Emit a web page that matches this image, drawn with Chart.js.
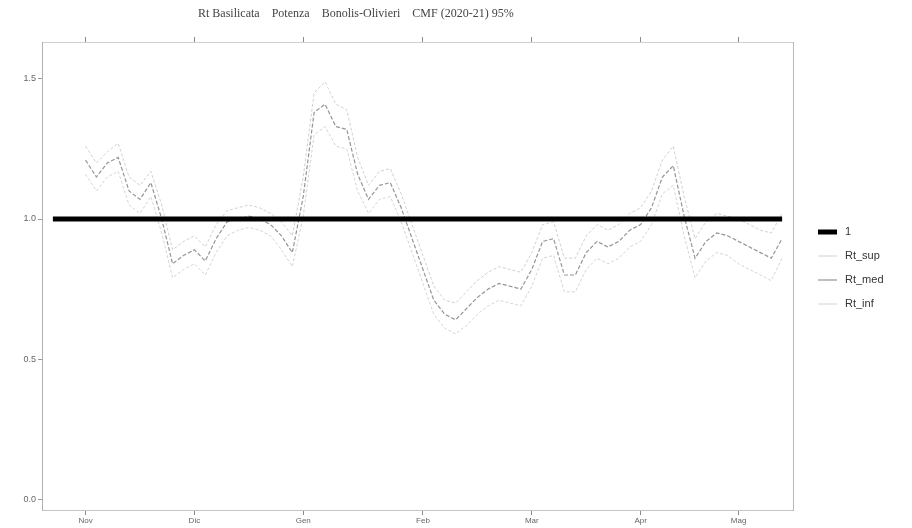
<!DOCTYPE html>
<html>
<head>
<meta charset="utf-8">
<script src="https://cdn.jsdelivr.net/npm/chart.js@4.4.0/dist/chart.umd.min.js"></script>
<style>
  html, body { margin: 0; padding: 0; background: #fff; }
  #wrap { position: relative; width: 912px; height: 528px; }
  #titulo { position: absolute; left: 198px; top: 6px; font: 12px 'Liberation Serif'; color: #444; white-space: pre; }
</style>
</head>
<body>
<div id="wrap">
  <canvas id="grafico" width="912" height="528"></canvas>
  <div id="titulo">Rt Basilicata    Potenza    Bonolis-Olivieri    CMF (2020-21) 95%</div>
</div>
<script>

// datos (un punto cada ~3 dias)

const meses = ['Nov', 'Dic', 'Gen', 'Feb', 'Mar', 'Apr', 'Mag']
const mesesIdx = [4, 14, 24, 35, 45, 55, 64]

const yTicks = [0, 0.5, 1, 1.5]

const rtMed = [null, null, null, null,
  1.21, 1.15, 1.20, 1.22, 1.10, 1.07, 1.13, 1.00, 0.84, 0.87,
  0.89, 0.85, 0.93, 0.99, 1.00, 1.01, 1.00, 0.98, 0.94, 0.88,
  1.08, 1.38, 1.41, 1.33, 1.32, 1.16, 1.07, 1.12, 1.13, 1.04,
  0.93, 0.82, 0.71, 0.66, 0.64, 0.68, 0.72, 0.75, 0.77, 0.76,
  0.75, 0.82, 0.92, 0.93, 0.80, 0.80, 0.88, 0.92, 0.90, 0.92,
  0.96, 0.98, 1.04, 1.15, 1.19, 1.01, 0.86, 0.92, 0.95, 0.94,
  0.92, 0.90, 0.88, 0.86, 0.93, null]

const rtSup = [null, null, null, null,
  1.26, 1.20, 1.24, 1.27, 1.15, 1.12, 1.17, 1.05, 0.89, 0.92,
  0.94, 0.90, 0.98, 1.03, 1.04, 1.05, 1.04, 1.02, 0.99, 0.94,
  1.15, 1.45, 1.49, 1.41, 1.39, 1.22, 1.12, 1.17, 1.18, 1.09,
  0.98, 0.87, 0.76, 0.71, 0.70, 0.74, 0.78, 0.81, 0.83, 0.82,
  0.81, 0.88, 0.98, 0.99, 0.86, 0.86, 0.94, 0.98, 0.96, 0.98,
  1.02, 1.04, 1.10, 1.21, 1.26, 1.08, 0.93, 0.99, 1.02, 1.01,
  1.00, 0.98, 0.96, 0.95, 1.02, null]

const rtInf = [null, null, null, null,
  1.16, 1.10, 1.15, 1.17, 1.05, 1.02, 1.08, 0.95, 0.79, 0.82,
  0.84, 0.80, 0.88, 0.94, 0.96, 0.97, 0.96, 0.94, 0.89, 0.83,
  1.01, 1.30, 1.33, 1.26, 1.25, 1.10, 1.02, 1.07, 1.08, 0.99,
  0.88, 0.77, 0.66, 0.61, 0.59, 0.62, 0.66, 0.69, 0.71, 0.70,
  0.69, 0.76, 0.86, 0.87, 0.74, 0.74, 0.82, 0.86, 0.84, 0.86,
  0.90, 0.92, 0.98, 1.09, 1.12, 0.94, 0.79, 0.85, 0.88, 0.87,
  0.84, 0.82, 0.80, 0.78, 0.86, null]

// linea de referencia en 1
const uno = [null, 1, 1, 1, 1, 1, 1, 1, 1, 1, 1, 1, 1, 1, 1, 1, 1, 1, 1, 1,
  1, 1, 1, 1, 1, 1, 1, 1, 1, 1, 1, 1, 1, 1, 1, 1, 1, 1, 1, 1,
  1, 1, 1, 1, 1, 1, 1, 1, 1, 1, 1, 1, 1, 1, 1, 1, 1, 1, 1, 1,
  1, 1, 1, 1, 1, 1, 1, 1, 1, null]

// etiquetas del eje x: solo los meses
const etiquetas = uno.map((v, i) => {
  const k = mesesIdx.indexOf(i)
  return k >= 0 ? meses[k] : ''
})

const colorTick = c => mesesIdx.includes(c.index) ? '#8a8a8a' : 'rgba(0,0,0,0)'

// leyenda dibujada a mano a la derecha
const leyenda = {
  id: 'leyenda',
  afterDraw(chart) {
    const ctx = chart.ctx
    const x0 = chart.chartArea.right + 25
    let y = 232
    ctx.save()
    chart.data.datasets.forEach(ds => {
      ctx.strokeStyle = ds.borderColor
      ctx.lineWidth = ds.borderWidth
      ctx.beginPath()
      ctx.moveTo(x0, y)
      ctx.lineTo(x0 + 19, y)
      ctx.stroke()
      ctx.fillStyle = '#333'
      ctx.font = "11px 'Liberation Sans'"
      ctx.textBaseline = 'middle'
      ctx.fillText(ds.label, x0 + 27, y)
      y += 24
    })
    ctx.restore()
  }
}

new Chart(document.getElementById('grafico'), {
  type: 'line',
  data: {
    labels: etiquetas,
    datasets: [{
      label: '1',
      data: uno,
      borderColor: '#000',
      borderWidth: 5,
      pointRadius: 0
    }, {
      label: 'Rt_sup',
      data: rtSup,
      borderColor: '#d0d0d0',
      borderWidth: 1,
      borderDash: [3, 2],
      pointRadius: 0
    }, {
      label: 'Rt_med',
      data: rtMed,
      borderColor: '#959595',
      borderWidth: 1.2,
      borderDash: [4, 2],
      pointRadius: 0
    }, {
      label: 'Rt_inf',
      data: rtInf,
      borderColor: '#d4d4d4',
      borderWidth: 1,
      borderDash: [3, 2],
      pointRadius: 0
    }]
  },
  options: {
    responsive: false,
    animation: false,
    events: [],
    layout: { padding: { top: 36, right: 119, left: 0, bottom: 0 } },
    plugins: {
      legend: { display: false },
      title: { display: false },
      tooltip: { enabled: false }
    },
    scales: {
      x: {
        position: 'bottom',
        offset: false,
        afterFit: s => { s.height = 18 },
        grid: { drawOnChartArea: false, tickLength: 5, color: colorTick },
        border: { color: '#c4c4c4', dash: [5, 4] },
        ticks: {
          autoSkip: false, maxRotation: 0, padding: 1,
          color: '#666', font: { family: 'Liberation Sans', size: 8 }
        }
      },
      x2: {
        type: 'category',
        position: 'top',
        offset: false,
        afterFit: s => { s.height = 6 },
        grid: { drawOnChartArea: false, tickLength: 5, color: colorTick },
        border: { color: '#d0d0d0', dash: [6, 5] },
        ticks: { display: false }
      },
      y: {
        min: -0.039,
        max: 1.632,
        afterFit: s => { s.width = 42 },
        afterBuildTicks: s => { s.ticks = yTicks.map(v => ({ value: v })) },
        grid: { drawOnChartArea: false, tickLength: 4, color: '#999' },
        border: { color: '#b0b0b0', dash: [6, 3] },
        ticks: {
          padding: 2,
          color: '#666',
          font: { family: 'Liberation Sans', size: 9 },
          callback: v => v.toFixed(1)
        }
      },
      y2: {
        position: 'right',
        afterFit: s => { s.width = 0 },
        grid: { display: false },
        border: { color: '#b8b8b8' },
        ticks: { display: false }
      }
    }
  },
  plugins: [leyenda]
})
</script>
</body>
</html>
